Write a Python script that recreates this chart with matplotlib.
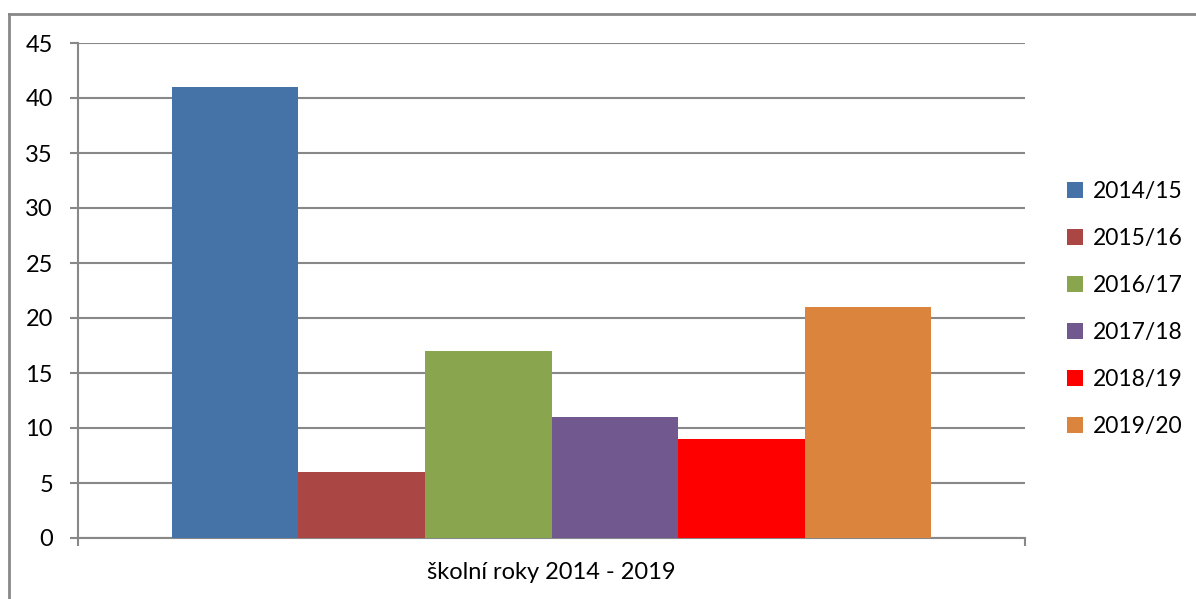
import numpy as np
import matplotlib.pyplot as plt
from matplotlib.lines import Line2D

# ----------------------------------------------------------------
years = ["2014/15", "2015/16", "2016/17", "2017/18", "2018/19", "2019/20"]
counts = [41, 6, 17, 11, 9, 21]
colors = ["#4572A7", "#AA4643", "#89A54E", "#71588F", "#FF0000", "#DB843D"]
category = "školní roky 2014 - 2019"
yticks = [0, 5, 10, 15, 20, 25, 30, 35, 40, 45]
# ----------------------------------------------------------------

plt.rcParams['font.family'] = ['Lato', 'DejaVu Sans']
grey = "#888888"

fig = plt.figure(figsize=(11.96, 5.99), dpi=100)
ax = fig.add_axes([78 / 1196, 1 - 538 / 599, (1025 - 78) / 1196, (538 - 43) / 599])

n = len(counts)
w = 0.8015 / n
x0 = -0.8015 / 2 + w / 2
for i in range(n):
    ax.bar(x0 + i * w, counts[i], width=w, color=colors[i], label=years[i], zorder=3)

ax.set_xlim(-0.5, 0.5)
ax.set_ylim(0, 45)
ax.set_yticks(yticks)
ax.yaxis.grid(True, color=grey, linewidth=1.5, zorder=0)
ax.set_axisbelow(True)

ax.set_xticks([0])
ax.set_xticklabels([category], fontsize=17)
ax.tick_params(axis='x', length=0, pad=17)
ax.set_xticks([-0.5, 0.5], minor=True)
ax.tick_params(axis='x', which='minor', length=6, width=1.5, color=grey)
ax.tick_params(axis='y', length=6, width=1.5, color=grey, labelsize=17, pad=12)

for s in ['top', 'right']:
    ax.spines[s].set_visible(False)
for s in ['left', 'bottom']:
    ax.spines[s].set_color(grey)
    ax.spines[s].set_linewidth(1.5)

ax.legend(loc='center left', bbox_to_anchor=(1058 / 1196, 1 - 309 / 599), bbox_transform=fig.transFigure,
          frameon=False, fontsize=16.5, handlelength=0.7, handleheight=0.7,
          handletextpad=0.4, labelspacing=1.14, borderaxespad=0)

# outer chart border (partly cropped in the original)
fig.add_artist(Line2D([8.5 / 1196, 8.5 / 1196], [0, 1 - 13.5 / 599], color=grey, lw=2,
                      transform=fig.transFigure))
fig.add_artist(Line2D([8.5 / 1196, 1], [1 - 13.5 / 599, 1 - 13.5 / 599], color=grey, lw=2,
                      transform=fig.transFigure))

fig.savefig("out.png", dpi=100)
